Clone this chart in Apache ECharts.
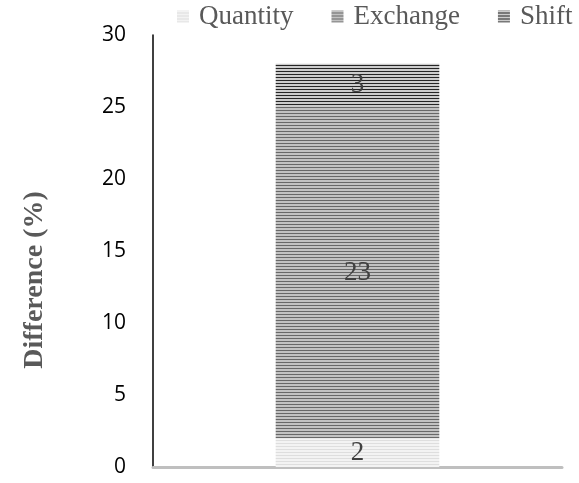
<!DOCTYPE html>
<html>
<head>
<meta charset="utf-8">
<script src="https://cdn.jsdelivr.net/npm/echarts@6/dist/echarts.min.js"></script>
<style>
  html, body { margin: 0; padding: 0; background: #fff; }
  #chart { width: 579px; height: 483px; }
</style>
</head>
<body>
<div id="chart"></div>
<script>
// Chart data
const categories = [''];
const seriesNames = ['Quantity', 'Exchange', 'Shift'];
const quantityValues = [2];
const exchangeValues = [23];
const shiftValues = [3];
const yTicks = { min: 0, max: 30, interval: 5 };
const yTitle = 'Difference (%)';

// Horizontal-line hatch fill: light rows with a darker line every period
function stripes(light, dark, period, darkRows) {
  const c = document.createElement('canvas');
  c.width = 4; c.height = period;
  const g = c.getContext('2d');
  g.fillStyle = light; g.fillRect(0, 0, 4, period);
  g.fillStyle = dark; g.fillRect(0, period - darkRows, 4, darkRows);
  return { image: c, repeat: 'repeat' };
}

const fills = [
  stripes('#f3f3f3', '#dedede', 3, 1),
  stripes('#c2c2c2', '#686868', 3, 1),
  stripes('#cccccc', '#252525', 3, 1)
];
const valuesBySeries = [quantityValues, exchangeValues, shiftValues];

const chart = echarts.init(document.getElementById('chart'), null, { renderer: 'canvas' });
chart.setOption({
  animation: false,
  backgroundColor: '#ffffff',
  legend: {
    top: 3,
    left: 177,
    width: 402,
    padding: 0,
    itemWidth: 12,
    itemHeight: 12,
    itemGap: 38,
    icon: 'rect',
    textStyle: { fontFamily: 'Liberation Serif', fontSize: 27, color: '#595959', padding: [0, 0, 0, 5] },
    data: seriesNames
  },
  graphic: [{
    type: 'text',
    x: 35,
    y: 280,
    rotation: Math.PI / 2,
    style: {
      text: yTitle,
      fontFamily: 'Liberation Serif',
      fontWeight: 'bold',
      fontSize: 28,
      fill: '#595959',
      align: 'center',
      verticalAlign: 'middle'
    }
  }],
  grid: { left: 153, right: 17, top: 35, bottom: 16 },
  xAxis: {
    type: 'category',
    data: categories,
    axisLine: { lineStyle: { color: '#bfbfbf', width: 3 } },
    axisTick: { show: false },
    axisLabel: { show: false }
  },
  yAxis: {
    type: 'value',
    min: yTicks.min, max: yTicks.max, interval: yTicks.interval,
    axisLine: { show: true, lineStyle: { color: '#000000', width: 1.5 } },
    axisTick: { show: false },
    splitLine: { show: false },
    axisLabel: { fontFamily: 'Open Sans', fontSize: 21, color: '#000000', margin: 27 }
  },
  series: seriesNames.map((name, i) => ({
    name,
    type: 'bar',
    stack: 'total',
    barWidth: '40%',
    data: valuesBySeries[i],
    itemStyle: { color: fills[i] },
    label: {
      show: true,
      position: 'inside',
      fontFamily: 'Liberation Serif',
      fontSize: 27,
      color: '#404040'
    }
  }))
});
</script>
</body>
</html>
